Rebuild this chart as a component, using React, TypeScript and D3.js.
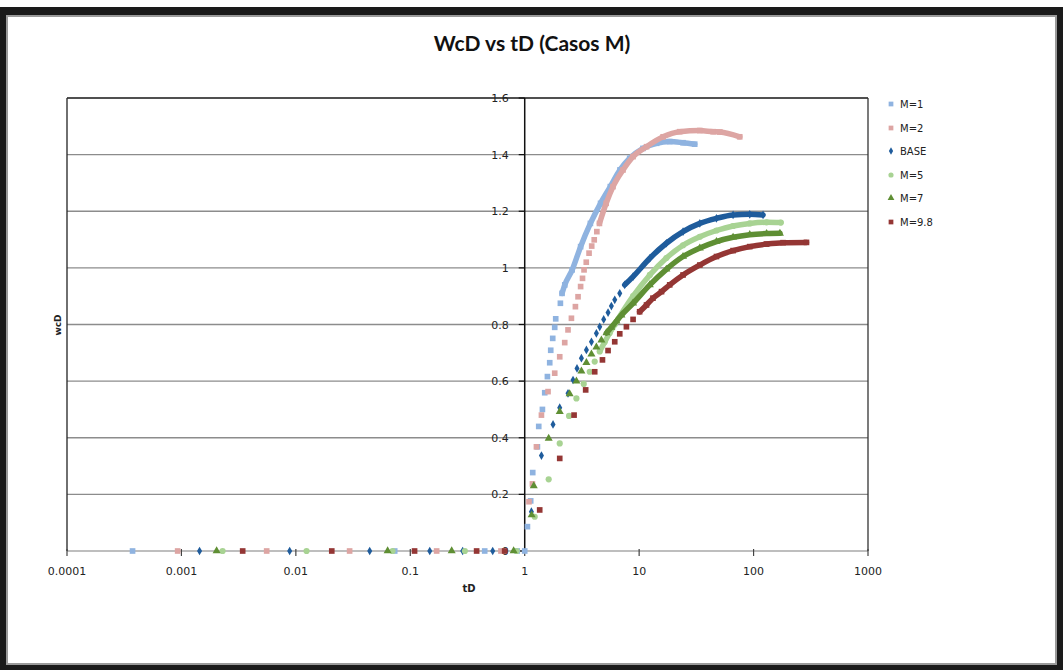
import React from "react";
import * as d3 from "d3";

const seriesNames = ["M=1", "M=2", "BASE", "M=5", "M=7", "M=9.8"];
const seriesColors = ["#8FB3E0", "#DDA5A3", "#1F5C9C", "#A8D393", "#5F8F34", "#943634"];
const seriesShapes = ["square", "square", "diamond", "circle", "triangle", "square"];
const denseStart = [19, 25, 23, 13, 15, 16];

// [tD, wcD]
const m1Points: [number, number][] = [
  [0.000374, 0], [0.0731, 0], [0.447, 0], [0.86, 0], [1.0, 0],
  [1.056, 0.086], [1.128, 0.177], [1.175, 0.277], [1.291, 0.368], [1.326, 0.44], [1.428, 0.5],
  [1.496, 0.559], [1.579, 0.616], [1.654, 0.665], [1.688, 0.709], [1.757, 0.751], [1.829, 0.79],
  [1.866, 0.82], [2.05, 0.875], [2.12, 0.91], [2.24, 0.94], [2.6, 0.993], [3.08, 1.075],
  [3.75, 1.157], [4.6, 1.228], [5.6, 1.287], [6.8, 1.346], [8.27, 1.387], [10.8, 1.422],
  [14.2, 1.44], [18.5, 1.446], [24.2, 1.442], [30.6, 1.437],
];
const m2Points: [number, number][] = [
  [0.000927, 0], [0.00556, 0], [0.0295, 0], [0.17, 0], [0.62, 0],
  [1.09, 0.174], [1.168, 0.237], [1.266, 0.368], [1.4, 0.48], [1.599, 0.563], [1.829, 0.628],
  [2.023, 0.686], [2.237, 0.736], [2.39, 0.781], [2.56, 0.822], [2.774, 0.863], [2.925, 0.898],
  [3.08, 0.934], [3.2, 0.963], [3.3, 0.993], [3.45, 1.02], [3.65, 1.052], [3.85, 1.077],
  [4.05, 1.099], [4.27, 1.128], [4.5, 1.157], [5.15, 1.228], [5.91, 1.287], [7.23, 1.346],
  [8.85, 1.393], [11.6, 1.428], [16.2, 1.463], [22.6, 1.481], [33.9, 1.485], [44.3, 1.481],
  [50.7, 1.48], [75.7, 1.463],
];
const basePoints: [number, number][] = [
  [0.00144, 0], [0.00883, 0], [0.0442, 0], [0.148, 0], [0.287, 0], [0.525, 0],
  [1.144, 0.139], [1.4, 0.337], [1.768, 0.447], [2.023, 0.506], [2.39, 0.557], [2.644, 0.604],
  [2.865, 0.645], [3.13, 0.681], [3.46, 0.71], [3.83, 0.739], [4.23, 0.769], [4.525, 0.792],
  [4.9, 0.818], [5.35, 0.842], [5.72, 0.865], [6.12, 0.887], [6.77, 0.91], [7.48, 0.94],
  [8.85, 0.969], [12.4, 1.034], [17.3, 1.087], [24.2, 1.128], [33.9, 1.157], [47.4, 1.175],
  [66.2, 1.187], [92.6, 1.189], [121, 1.187],
];
const m5Points: [number, number][] = [
  [0.00229, 0], [0.0124, 0], [0.07, 0], [0.3, 0], [0.85, 0],
  [1.223, 0.121], [1.62, 0.253], [2.023, 0.38], [2.44, 0.477], [2.83, 0.539], [3.28, 0.59],
  [3.7, 0.633], [4.09, 0.669], [4.525, 0.705], [5.0, 0.738], [5.53, 0.77], [6.12, 0.8],
  [8.85, 0.9], [12.4, 0.975], [17.3, 1.035], [24.2, 1.08], [33.9, 1.11], [47.4, 1.132],
  [66.2, 1.148], [92.6, 1.157], [130, 1.161], [173, 1.16],
];
const m7Points: [number, number][] = [
  [0.00203, 0], [0.0634, 0], [0.23, 0], [0.8, 0],
  [1.15, 0.127], [1.2, 0.23], [1.62, 0.398], [2.023, 0.492], [2.47, 0.555], [2.83, 0.6],
  [3.13, 0.635], [3.46, 0.665], [3.83, 0.695], [4.23, 0.72], [4.68, 0.745], [5.18, 0.77],
  [5.72, 0.79], [6.33, 0.812], [7.0, 0.833], [8.85, 0.875], [12.4, 0.94], [17.3, 0.995],
  [24.2, 1.04], [33.9, 1.07], [47.4, 1.093], [66.2, 1.108], [92.6, 1.117], [130, 1.121],
  [170, 1.122],
];
const m98Points: [number, number][] = [
  [0.00343, 0], [0.0206, 0], [0.109, 0], [0.38, 0], [0.668, 0],
  [1.352, 0.145], [2.023, 0.327], [2.7, 0.48], [3.41, 0.569], [4.09, 0.633], [4.78, 0.675],
  [5.35, 0.708], [6.12, 0.739], [6.77, 0.767], [7.74, 0.792], [8.85, 0.818], [10.1, 0.845],
  [11.6, 0.869], [13.2, 0.893], [15.7, 0.916], [18.5, 0.94], [24.2, 0.975], [33.9, 1.01],
  [47.4, 1.04], [66.2, 1.061], [92.6, 1.075], [130, 1.084], [181, 1.089], [290, 1.09],
];
const seriesData = [m1Points, m2Points, basePoints, m5Points, m7Points, m98Points];

const xTicks = [0.0001, 0.001, 0.01, 0.1, 1, 10, 100, 1000];
const xTickLabels = ["0.0001", "0.001", "0.01", "0.1", "1", "10", "100", "1000"];
const yTicks = [0, 0.2, 0.4, 0.6, 0.8, 1, 1.2, 1.4, 1.6];
const yTickLabels = ["0", "0.2", "0.4", "0.6", "0.8", "1", "1.2", "1.4", "1.6"];

const W = 1063;
const H = 670;
const PL = 67, PR = 868, PT = 98, PB = 551;

const symbolFor: Record<string, d3.SymbolType> = {
  square: d3.symbolSquare,
  diamond: d3.symbolDiamond,
  circle: d3.symbolCircle,
  triangle: d3.symbolTriangle,
};
const symbolSize: Record<string, number> = { square: 32, diamond: 22, circle: 30, triangle: 28 };

export default function App() {
  const x = d3.scaleLog().domain([0.0001, 1000]).range([PL, PR]);
  const y = d3.scaleLinear().domain([0, 1.6]).range([PB, PT]);
  const line = d3
    .line<[number, number]>()
    .x((d) => x(d[0]))
    .y((d) => y(d[1]))
    .curve(d3.curveMonotoneX);
  const font = "'DejaVu Sans', Verdana, sans-serif";
  const legendY = [104, 128, 151, 175, 198, 222];

  return (
    <svg width={W} height={H} style={{ position: "absolute", left: 0, top: 0 }} xmlns="http://www.w3.org/2000/svg">
      <rect x={0} y={0} width={W} height={H} fill="#fff" />
      <rect x={0} y={7} width={W} height={H - 7} fill="#1a1a1a" />
      <rect x={7} y={16} width={W - 14} height={H - 22} fill="#fff" stroke="#9a9a9a" strokeWidth={2} />
      <text x={532} y={51} textAnchor="middle" fontFamily="Lato, 'Open Sans', sans-serif" fontWeight="bold" fontSize={21} fill="#111">
        WcD vs tD (Casos M)
      </text>
      {yTicks.map((t, i) => (
        <line key={"g" + i} x1={PL} x2={PR} y1={y(t)} y2={y(t)} stroke={i === 0 ? "#a8a8a8" : "#8c8c8c"} strokeWidth={1.3} />
      ))}
      <line x1={PL} x2={PL} y1={PT} y2={PB} stroke="#222" strokeWidth={1.3} />
      <line x1={PR} x2={PR} y1={PT} y2={PB} stroke="#333" strokeWidth={1.3} />
      <line x1={PL} x2={PR} y1={PT} y2={PT} stroke="#333" strokeWidth={1.3} />
      <line x1={x(1)} x2={x(1)} y1={PT} y2={PB} stroke="#111" strokeWidth={1.5} />
      {yTicks.map((t, i) => (
        <g key={"yt" + i}>
          <line x1={x(1) - 6} x2={x(1)} y1={y(t)} y2={y(t)} stroke="#111" strokeWidth={1.2} />
          <text x={x(1) - 16} y={y(t) + 4} textAnchor="end" fontFamily={font} fontSize={11} fill="#222">
            {yTickLabels[i]}
          </text>
        </g>
      ))}
      {xTicks.map((t, i) => (
        <g key={"xt" + i}>
          <line x1={x(t)} x2={x(t)} y1={PB - 2} y2={PB + 5} stroke="#444" strokeWidth={1.2} />
          <text x={x(t)} y={PB + 24} textAnchor="middle" fontFamily={font} fontSize={11} fill="#222">
            {xTickLabels[i]}
          </text>
        </g>
      ))}
      <text x={469} y={592} textAnchor="middle" fontFamily={font} fontWeight="bold" fontSize={10} fill="#222">
        tD
      </text>
      <text x={0} y={0} transform="translate(61,325) rotate(-90)" textAnchor="middle" fontFamily={font} fontWeight="bold" fontSize={9} fill="#222">
        wcD
      </text>
      {seriesData.map((pts, si) => {
        const shape = seriesShapes[si];
        const sym = d3.symbol().type(symbolFor[shape]).size(symbolSize[shape])();
        const dense = pts.slice(denseStart[si]);
        return (
          <g key={"s" + si}>
            <path d={line(dense) || ""} fill="none" stroke={seriesColors[si]} strokeWidth={5.5} strokeLinecap="round" />
            {pts.map((p, pi) => (
              <path key={pi} d={sym || ""} transform={`translate(${x(p[0])},${y(p[1])})`} fill={seriesColors[si]} />
            ))}
          </g>
        );
      })}
      {seriesNames.map((n, i) => {
        const shape = seriesShapes[i];
        const sym = d3.symbol().type(symbolFor[shape]).size(symbolSize[shape] * 0.7)();
        return (
          <g key={"l" + i}>
            <path d={sym || ""} transform={`translate(891,${legendY[i]})`} fill={seriesColors[i]} />
            <text x={900} y={legendY[i] + 4} fontFamily={font} fontSize={10} fill="#222">
              {n}
            </text>
          </g>
        );
      })}
    </svg>
  );
}
